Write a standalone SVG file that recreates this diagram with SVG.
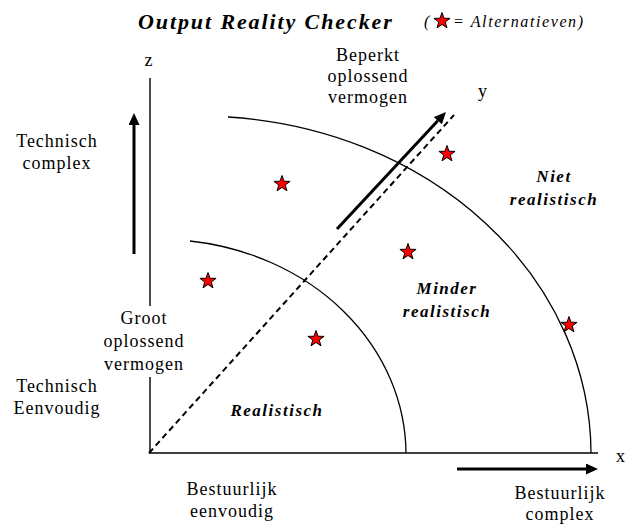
<svg xmlns="http://www.w3.org/2000/svg" width="625" height="524" viewBox="0 0 625 524">
<style>
  text { font-family: "Liberation Serif", "Times New Roman", serif; fill: #000; }
  .lbl { font-size: 18px; letter-spacing: 1px; text-anchor: middle; }
  .zone { font-size: 17px; font-weight: bold; font-style: italic; letter-spacing: 1.5px; text-anchor: middle; }
  .title { font-size: 22px; font-weight: bold; font-style: italic; letter-spacing: 1.9px; }
  .legend { font-size: 16px; font-style: italic; letter-spacing: 1.6px; }
  .axis { fill: none; stroke: #000; stroke-width: 1.4; }
  .arc { fill: none; stroke: #000; stroke-width: 1.3; }
  .arrow { fill: none; stroke: #000; stroke-width: 3; marker-end: url(#ah); }
  .dash { fill: none; stroke: #000; stroke-width: 2; stroke-dasharray: 6 4; }
  .star { fill: #ff0000; stroke: #000; stroke-width: 1; stroke-linejoin: miter; }
</style>
<defs>
  <marker id="ah" markerWidth="12" markerHeight="11" refX="0" refY="5.5" orient="auto" markerUnits="userSpaceOnUse">
    <path d="M0,0 L12,5.5 L0,11 Z" fill="#000"/>
  </marker>
  <path id="star" d="M0,-8.5 L2,-2.75 L8.08,-2.63 L3.23,1.05 L5,6.88 L0,3.4 L-5,6.88 L-3.23,1.05 L-8.08,-2.63 L-2,-2.75 Z"/>
</defs>
<rect width="625" height="524" fill="#fff"/>

<g id="connectors">
  <line class="axis" x1="150" y1="78" x2="150" y2="306"/>
  <line class="axis" x1="150" y1="377" x2="150" y2="453"/>
  <line class="axis" x1="149" y1="453" x2="598" y2="453"/>
  <path class="arc" d="M190,241 A246,215 0 0 1 406,453"/>
  <path class="arc" d="M228,117 A391,338 0 0 1 591,453"/>
  <line class="dash" x1="149" y1="453" x2="454" y2="115"/>
  <line class="arrow" x1="134" y1="254" x2="134" y2="125"/>
  <line class="arrow" x1="457" y1="469" x2="586" y2="469"/>
  <line class="arrow" x1="337" y1="229" x2="437.8" y2="120.8"/>
</g>

<g id="title"><text class="title" x="138" y="29">Output Reality Checker</text></g>
<g id="legend">
  <text class="legend" x="424" y="27">(</text>
  <use href="#star" class="star" x="442" y="21"/>
  <text class="legend" x="453" y="27">= Alternatieven)</text>
</g>

<g id="axis-z"><text class="lbl" x="149" y="66">z</text></g>
<g id="axis-y"><text class="lbl" x="483" y="97">y</text></g>
<g id="axis-x"><text class="lbl" x="621" y="462">x</text></g>

<g id="technisch-complex"><text class="lbl" x="57" y="147">Technisch</text><text class="lbl" x="57" y="169">complex</text></g>
<g id="technisch-eenvoudig"><text class="lbl" x="57" y="392">Technisch</text><text class="lbl" x="57" y="414">Eenvoudig</text></g>
<g id="groot-oplossend"><text class="lbl" x="144" y="324">Groot</text><text class="lbl" x="144" y="347">oplossend</text><text class="lbl" x="144" y="370">vermogen</text></g>
<g id="beperkt-oplossend"><text class="lbl" x="368" y="61">Beperkt</text><text class="lbl" x="368" y="82">oplossend</text><text class="lbl" x="368" y="103">vermogen</text></g>
<g id="bestuurlijk-eenvoudig"><text class="lbl" x="232" y="495">Bestuurlijk</text><text class="lbl" x="232" y="517">eenvoudig</text></g>
<g id="bestuurlijk-complex"><text class="lbl" x="560" y="499">Bestuurlijk</text><text class="lbl" x="560" y="520">complex</text></g>

<g id="realistisch"><text class="zone" x="277" y="416">Realistisch</text></g>
<g id="minder-realistisch"><text class="zone" x="447" y="294">Minder</text><text class="zone" x="447" y="317">realistisch</text></g>
<g id="niet-realistisch"><text class="zone" x="554" y="182">Niet</text><text class="zone" x="554" y="205">realistisch</text></g>

<g id="alternatieven">
  <use href="#star" class="star" x="282" y="184"/>
  <use href="#star" class="star" x="447" y="154"/>
  <use href="#star" class="star" x="208" y="281"/>
  <use href="#star" class="star" x="408" y="252"/>
  <use href="#star" class="star" x="316" y="339"/>
  <use href="#star" class="star" x="569" y="325"/>
</g>
</svg>
